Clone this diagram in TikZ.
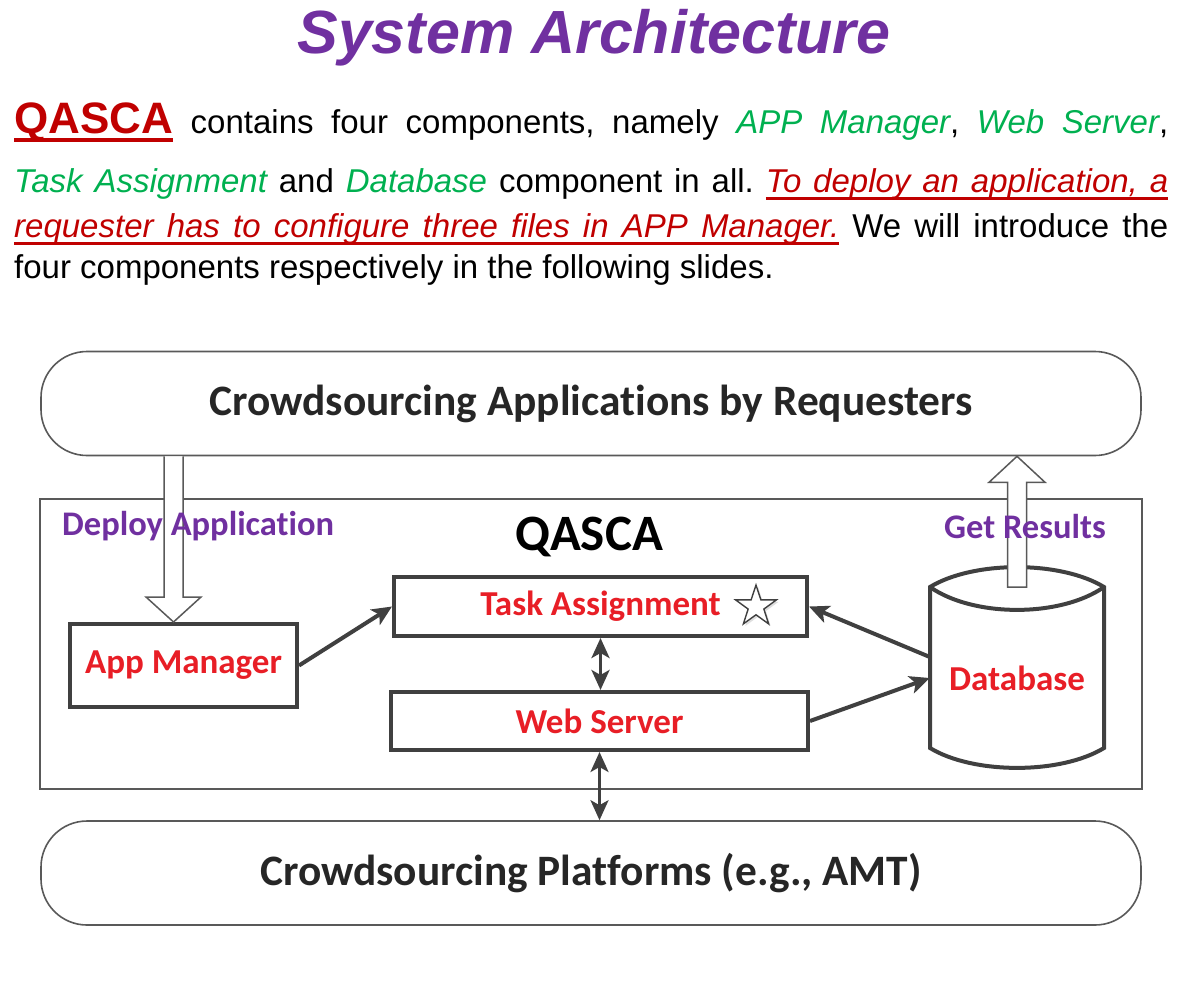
\documentclass[tikz,border=0pt]{standalone}
\usepackage{fontspec}
\setmainfont{Liberation Sans}
\newfontfamily\carlito[Ligatures=NoCommon]{Carlito}
\usetikzlibrary{arrows.meta,shapes.geometric,shadows,positioning}
\frenchspacing

\definecolor{titleviolet}{HTML}{7030A0}
\definecolor{deepred}{HTML}{C00000}
\definecolor{leafgreen}{HTML}{00B050}
\definecolor{modred}{RGB}{232,30,38}
\definecolor{thingray}{HTML}{595959}
\definecolor{boxgray}{HTML}{404040}
\definecolor{pilltext}{HTML}{262626}

% underlining that follows stretched spaces
\def\ulhgt{-5pt}\def\uldep{7.5pt}
\newcommand{\ulbox}[1]{\setbox0\hbox{#1}\rlap{\vrule width\wd0 height\ulhgt depth\uldep}\box0}
\def\ulsp{\leaders\hrule height\ulhgt depth\uldep\hskip\fontdimen2\font plus\fontdimen3\font minus\fontdimen4\font}
\def\ulwords#1 #2\relax{\ulbox{#1}\if\relax\detokenize{#2}\relax\else\ulsp\ulwords#2\relax\fi}
\newcommand{\greenword}[1]{{\itshape\color{leafgreen}#1}}
\newcommand{\redline}[1]{{\itshape\color{deepred}\ulwords#1 \relax}}

\tikzset{
    >={Stealth[length=20pt,width=18pt,inset=5pt]},
    para/.style={anchor=base west, inner sep=0pt, font=\fontsize{33}{40}\selectfont},
    pill/.style={draw=thingray, line width=1.6pt, rounded corners=46pt, minimum width=1100pt, minimum height=104pt, inner sep=0pt, text=pilltext, font=\carlito\bfseries\fontsize{43.4}{50}\selectfont},
    outerbox/.style={draw=thingray, line width=1.8pt, minimum width=1102pt, minimum height=290pt, inner sep=0pt},
    module/.style={draw=boxgray, fill=white, line width=4pt, inner sep=0pt, text=modred, font=\carlito\bfseries\fontsize{35}{42}\selectfont},
    flowtext/.style={text=titleviolet, inner sep=0pt, font=\carlito\bfseries\fontsize{34.5}{40}\selectfont},
    dataflow/.style={draw=boxgray, line width=4pt},
    hollow/.style={draw=thingray, fill=white, line width=1.5pt},
}

\begin{document}
\begin{tikzpicture}[x=1pt,y=-1pt]
    \useasboundingbox (0,0) rectangle (1182,985);
    % heading and text
    \node[anchor=base, inner sep=0pt, text=titleviolet, font=\bfseries\itshape\fontsize{61}{70}\selectfont] (title) at (594,53) {System Architecture};
    \node[para] (line1) at (14,133) {\hbox to 1154pt{{\fontsize{44}{50}\selectfont\bfseries\color{deepred}\def\uldep{9pt}\ulbox{QASCA}} contains four components, namely \greenword{APP Manager}, \greenword{Web Server},}};
    \node[para] (line2) at (14,192) {\hbox to 1154pt{\greenword{Task Assignment} and \greenword{Database} component in all. \redline{To deploy an application, a}}};
    \node[para] (line3) at (14,237) {\hbox to 1154pt{\redline{requester has to configure three files in APP Manager.} We will introduce the}};
    \node[para] (line4) at (14,278) {four components respectively in the following slides.};

    % layers
    \node[pill] (apps) at (591,403.5) {Crowdsourcing Applications by Requesters};
    \node[pill] (amt) at (591,873) {Crowdsourcing Platforms (e.g., AMT)};
    \node[outerbox] (qasca) at (591,644) {};
    \node[inner sep=0pt, font=\carlito\bfseries\fontsize{51}{56}\selectfont] (qascaname) at (589,537) {QASCA};

    % components
    \node[module, minimum width=227pt, minimum height=83pt] (appmgr) at (183.5,665.5) {App Manager};
    \node[module, minimum width=413pt, minimum height=59pt] (task) at (600.5,606.5) {Task Assignment};
    \node[module, minimum width=417pt, minimum height=58pt] (web) at (599.5,721) {Web Server};
    \node[star, star points=5, star point ratio=2.6, minimum size=43pt, inner sep=0pt, draw=boxgray, fill=white, line width=1.4pt, drop shadow={shadow xshift=2pt, shadow yshift=-2pt, fill=black!25}] (star) at ([xshift=-53pt]task.east) {};
    \node[inner sep=0pt, minimum width=174pt, minimum height=201pt] (db) at (1017,667.5) {};
    \draw[boxgray, line width=4pt, fill=white, shift={(db.center)}] (-87,-80.5) -- (-87,80.5) .. controls (-43.5,107) and (43.5,107) .. (87,80.5) -- (87,-80.5) .. controls (43.5,-107) and (-43.5,-107) .. (-87,-80.5) -- cycle; % drum
    \draw[boxgray, line width=4pt, shift={(db.center)}] (-87,-80.5) .. controls (-43.5,-50) and (43.5,-50) .. (87,-80.5); % lid
    \node[module, draw=none, fill=none] (dbname) at (1017,678) {Database};

    % data flow
    \draw[dataflow][->] (appmgr.east) -- (task.west);
    \draw[dataflow][->] ([yshift=10.5pt]db.west) -- (task.east);
    \draw[dataflow][->] (web.east) -- ([yshift=-10.5pt]db.west);
    \draw[dataflow, line width=3.5pt][<->] (task.south) -- (task.south |- web.north);
    \draw[dataflow, line width=3pt][<->] (web.south) -- (web.south |- amt.north);

    % deploy and results
    \coordinate (deploytip) at ([xshift=-10pt]appmgr.north);
    \coordinate (deploytop) at (deploytip |- apps.south);
    \draw[hollow] ([xshift=-9.5pt]deploytop) -- ([xshift=-9.5pt,yshift=25pt]deploytip) -- ([xshift=-27.5pt,yshift=25pt]deploytip) -- (deploytip) -- ([xshift=27.5pt,yshift=25pt]deploytip) -- ([xshift=9.5pt,yshift=25pt]deploytip) -- ([xshift=9.5pt]deploytop);
    \coordinate (resulttip) at (db.center |- apps.south);
    \coordinate (resultfoot) at ([yshift=80.5pt]db.center);
    \draw[hollow] ([xshift=-9.5pt]resultfoot) -- ([xshift=-9.5pt,yshift=-26pt]resulttip) -- ([xshift=-28pt,yshift=-26pt]resulttip) -- (resulttip) -- ([xshift=28pt,yshift=-26pt]resulttip) -- ([xshift=9.5pt,yshift=-26pt]resulttip) -- ([xshift=9.5pt]resultfoot) -- cycle;
    \node[flowtext, anchor=west] (deploylbl) at (62,526) {Deploy Application};
    \node[flowtext, anchor=east] (resultlbl) at (1106,527) {Get Results};
\end{tikzpicture}
\end{document}
